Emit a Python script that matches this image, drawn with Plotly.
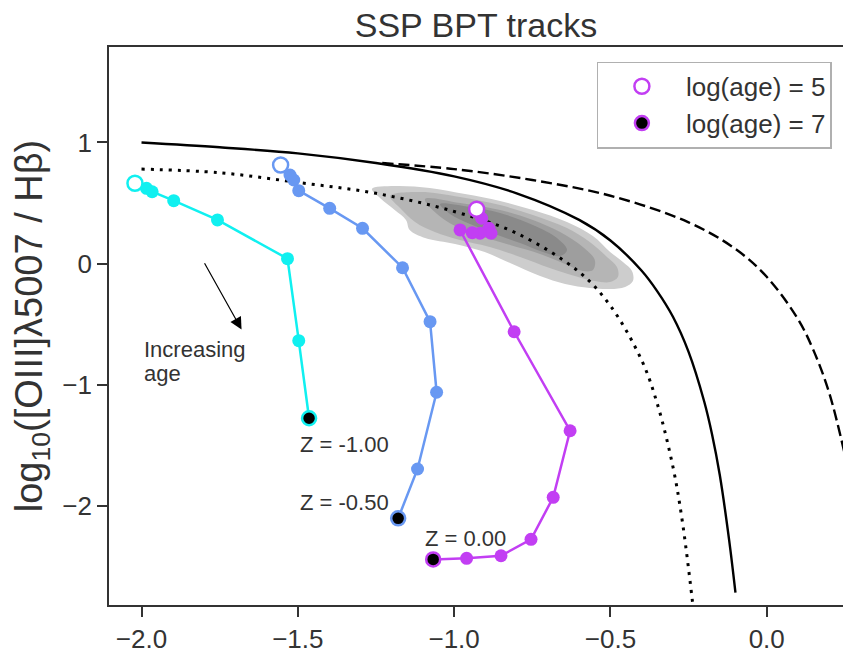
import plotly.graph_objects as go

# --- Tracks: log([NII]/Ha) vs log([OIII]/Hb) for three metallicities ---
metallicity = [-1.00, -0.50, 0.00]
track_colors = ["#10f0f0", "#6898f2", "#c23ef3"]

cyan_x = [-2.021, -1.984, -1.966, -1.897, -1.757, -1.533, -1.497, -1.464]
cyan_y = [0.663, 0.621, 0.593, 0.519, 0.360, 0.040, -0.638, -1.279]

blue_x = [-1.555, -1.525, -1.513, -1.497, -1.398, -1.293, -1.165, -1.077, -1.056, -1.117, -1.179]
blue_y = [0.814, 0.731, 0.690, 0.602, 0.456, 0.291, -0.035, -0.481, -1.064, -1.698, -2.106]

magenta_x = [-0.928, -0.912, -0.889, -0.882, -0.917, -0.942, -0.981, -0.808, -0.629,
             -0.683, -0.754, -0.850, -0.960, -1.067]
magenta_y = [0.448, 0.374, 0.291, 0.250, 0.250, 0.255, 0.277, -0.564, -1.382,
             -1.932, -2.279, -2.415, -2.436, -2.445]

track_x = [cyan_x, blue_x, magenta_x]
track_y = [cyan_y, blue_y, magenta_y]

# label anchor positions for the metallicity labels
zlabel_x = [-1.500, -1.500, -1.100]
zlabel_y = [-1.492, -1.977, -2.269]

# --- Demarcation lines ---
kauff_x = [-2.0, -1.75, -1.5, -1.25, -1.0, -0.8, -0.6, -0.5, -0.4, -0.35, -0.3,
           -0.25, -0.2, -0.175, -0.15, -0.12, -0.10]
kauff_y = [1.00, 0.96, 0.91, 0.83, 0.72, 0.58, 0.36, 0.19, -0.06, -0.23, -0.44,
           -0.73, -1.14, -1.41, -1.75, -2.29, -2.72]

kewley_x = [-1.23, -1.0, -0.75, -0.5, -0.25, -0.1, 0.0, 0.1, 0.15, 0.2, 0.25]
kewley_y = [0.83, 0.78, 0.69, 0.56, 0.34, 0.12, -0.11, -0.46, -0.72, -1.07, -1.58]

dotted_x = [-2.0, -1.75, -1.5, -1.25, -1.0, -0.8, -0.6, -0.5, -0.4, -0.35, -0.3, -0.27, -0.235]
dotted_y = [0.78, 0.75, 0.67, 0.58, 0.43, 0.25, -0.07, -0.35, -0.80, -1.16, -1.68, -2.13, -2.85]

# --- Density contours of observed galaxies (outer to inner) ---
cont1_x = [-1.263, -1.190, -1.078, -0.965, -0.853, -0.748, -0.639, -0.556, -0.501, -0.460,
           -0.431, -0.428, -0.453, -0.501, -0.566, -0.645, -0.725, -0.821, -0.902, -0.997,
           -1.093, -1.142, -1.154, -1.190, -1.237]
cont1_y = [0.616, 0.640, 0.624, 0.574, 0.517, 0.442, 0.343, 0.227, 0.095, 0.012,
           -0.062, -0.145, -0.194, -0.211, -0.202, -0.169, -0.103, 0.004, 0.095, 0.161,
           0.211, 0.277, 0.360, 0.442, 0.541]
cont2_x = [-1.205, -1.109, -0.981, -0.853, -0.748, -0.639, -0.566, -0.511, -0.479, -0.476,
           -0.501, -0.550, -0.614, -0.694, -0.789, -0.886, -0.981, -1.062, -1.125, -1.173]
cont2_y = [0.558, 0.591, 0.550, 0.483, 0.401, 0.293, 0.178, 0.054, -0.029, -0.112,
           -0.153, -0.145, -0.103, -0.037, 0.054, 0.136, 0.194, 0.260, 0.343, 0.459]
cont3_x = [-1.093, -0.981, -0.853, -0.748, -0.661, -0.588, -0.550, -0.556, -0.588, -0.645,
           -0.725, -0.821, -0.917, -0.997, -1.062]
cont3_y = [0.533, 0.500, 0.442, 0.360, 0.260, 0.136, 0.029, -0.054, -0.062, -0.004,
           0.079, 0.153, 0.227, 0.310, 0.426]
cont4_x = [-1.045, -0.949, -0.853, -0.748, -0.671, -0.639, -0.661, -0.716, -0.789, -0.870,
           -0.949, -1.013]
cont4_y = [0.492, 0.467, 0.417, 0.318, 0.211, 0.112, 0.062, 0.095, 0.169, 0.244,
           0.326, 0.409]
contour_x = [cont1_x, cont2_x, cont3_x, cont4_x]
contour_y = [cont1_y, cont2_y, cont3_y, cont4_y]
contour_colors = ["#cdcdcd", "#b5b5b5", "#9e9e9e", "#8a8a8a"]

# arrow showing the direction of increasing age
arrow_tail = (-1.801, 0.015)
arrow_head = (-1.680, -0.545)

FONT = "Liberation Sans, Arial, sans-serif"
TEXT = "#333333"

fig = go.Figure()

for cx, cy, cc in zip(contour_x, contour_y, contour_colors):
    fig.add_trace(go.Scatter(
        x=cx + cx[:1], y=cy + cy[:1], mode="lines", fill="toself",
        fillcolor=cc, line=dict(width=0, shape="spline", smoothing=1.0, color=cc),
        hoverinfo="skip", showlegend=False))

fig.add_trace(go.Scatter(x=dotted_x, y=dotted_y, mode="lines", showlegend=False,
                         line=dict(color="black", width=3, dash="3px,6px", shape="spline")))
fig.add_trace(go.Scatter(x=kewley_x, y=kewley_y, mode="lines", showlegend=False,
                         line=dict(color="black", width=2.4, dash="11px,5px", shape="spline")))
fig.add_trace(go.Scatter(x=kauff_x, y=kauff_y, mode="lines", showlegend=False,
                         line=dict(color="black", width=2.4, shape="spline")))

for i, (tx, ty, col, z) in enumerate(zip(track_x, track_y, track_colors, metallicity)):
    last = i == len(track_x) - 1
    fig.add_trace(go.Scatter(
        x=tx, y=ty, mode="lines+markers", showlegend=False,
        line=dict(color=col, width=2.5),
        marker=dict(color=col, size=13)))
    fig.add_trace(go.Scatter(
        x=tx[:1], y=ty[:1], mode="markers", name="log(age) = 5", showlegend=last,
        marker=dict(color="white", size=15, line=dict(color=col, width=2.5))))
    fig.add_trace(go.Scatter(
        x=tx[-1:], y=ty[-1:], mode="markers", name="log(age) = 7", showlegend=last,
        marker=dict(color="black", size=14, line=dict(color=col, width=2.5))))

annotations = []
for lx, ly, z in zip(zlabel_x, zlabel_y, metallicity):
    annotations.append(dict(x=lx, y=ly, xref="x", yref="y", text=f"Z = {z:.2f}",
                            showarrow=False, xanchor="left", yanchor="middle",
                            font=dict(family=FONT, size=22, color=TEXT)))
annotations.append(dict(x=arrow_head[0], y=arrow_head[1], ax=arrow_tail[0], ay=arrow_tail[1],
                        xref="x", yref="y", axref="x", ayref="y", text="",
                        showarrow=True, arrowhead=2, arrowsize=2.0, arrowwidth=1.2,
                        arrowcolor="black"))
annotations.append(dict(x=-1.997, y=-0.707, xref="x", yref="y", text="Increasing",
                        showarrow=False, xanchor="left", yanchor="middle",
                        font=dict(family=FONT, size=22, color=TEXT)))
annotations.append(dict(x=-1.997, y=-0.905, xref="x", yref="y", text="age",
                        showarrow=False, xanchor="left", yanchor="middle",
                        font=dict(family=FONT, size=22, color=TEXT)))

axis_common = dict(showgrid=False, zeroline=False, showline=True, linecolor="#333333",
                   linewidth=1.6, ticks="outside", ticklen=10, tickwidth=1.6,
                   tickcolor="#333333",
                   tickfont=dict(family=FONT, size=26, color=TEXT))

fig.update_layout(
    width=843, height=654,
    margin=dict(l=109, r=0, t=47, b=49),
    paper_bgcolor="white", plot_bgcolor="white",
    title=dict(text="SSP BPT tracks", x=0.5, xref="paper", y=1 - 25 / 654,
               yref="container", xanchor="center", yanchor="middle",
               font=dict(family=FONT, size=34, color=TEXT)),
    xaxis=dict(range=[-2.104, 0.244], tickvals=[-2.0, -1.5, -1.0, -0.5, 0.0],
               tickformat=".1f", mirror=True, **axis_common),
    yaxis=dict(range=[-2.822, 1.789], tickvals=[-2, -1, 0, 1], mirror=False,
               title=dict(text="log<sub>10</sub>([OIII]λ5007 / Hβ)", standoff=8,
                          font=dict(family=FONT, size=38, color=TEXT)),
               **axis_common),
    legend=dict(x=0.9846, y=0.9737, xanchor="right", yanchor="top",
                bgcolor="white", bordercolor="#b0b0b0", borderwidth=1.2,
                font=dict(family=FONT, size=26, color=TEXT), itemwidth=78,
                tracegroupgap=0),
    annotations=annotations,
)

fig.write_html("out.html")
